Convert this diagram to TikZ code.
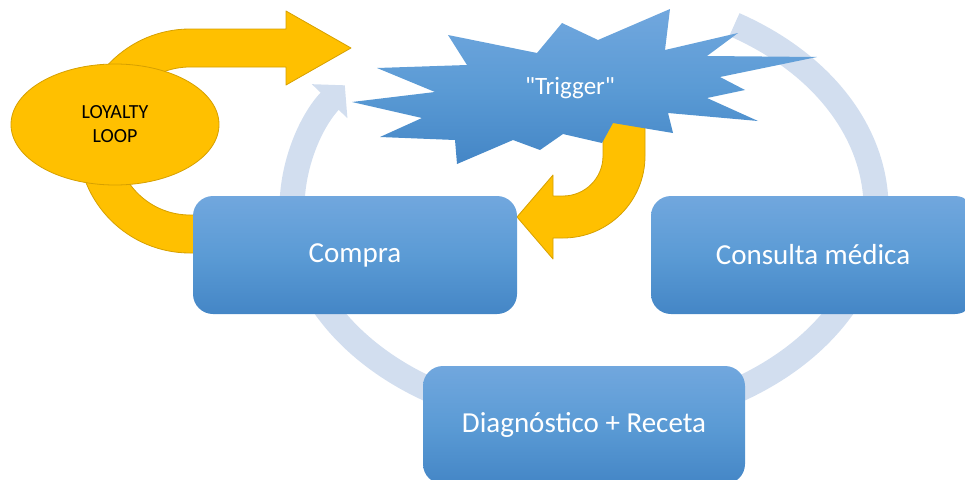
\documentclass[tikz,border=0pt]{standalone}
\usepackage{fontspec}
\setmainfont{Carlito}
\newfontfamily\plaincarlito{Carlito}[Ligatures=TeXOff]
\usetikzlibrary{arrows.meta,shapes.geometric}
\definecolor{cyclefill}{RGB}{210,222,239}
\definecolor{gold}{RGB}{255,192,0}
\definecolor{goldline}{RGB}{214,160,0}
\definecolor{boxtop}{RGB}{113,167,222}
\definecolor{boxmid}{RGB}{91,155,213}
\definecolor{boxbot}{RGB}{68,134,198}
\begin{document}
\begin{tikzpicture}[x=1pt,y=-1pt,
  stepbox/.style={rectangle, rounded corners=20pt, minimum width=324pt,
    minimum height=118pt, inner sep=0pt,
    top color=boxtop, bottom color=boxbot, middle color=boxmid,
    text=white, font=\fontsize{29}{34}\selectfont},
  cyclearc/.style={draw=cyclefill, line width=25pt,
    -{Triangle[width=48pt,length=22pt]}},
  goldarrow/.style={fill=gold, draw=goldline, line width=0.8pt, line join=round},
  burst/.style={top color=boxtop, bottom color=boxbot, middle color=boxmid},
  loopnode/.style={ellipse, minimum width=208pt, minimum height=121pt, inner sep=0pt,
    fill=gold, draw=goldline, line width=0.8pt, align=center,
    font=\fontsize{20}{24}\selectfont}
]
\clip (0,0) rectangle (965,479);

% cycle ring running clockwise behind the process boxes
\coordinate (cycstart) at (734.4,24.6);
\draw[cyclearc] (cycstart) arc[start angle=-59, end angle=215, x radius=292, y radius=214];

% U-turn block arrow of the loyalty loop
\draw[goldarrow] (262,253) -- (190,253)
  arc[start angle=90, end angle=270, radius=112]
  -- (286,29) -- (286,11) -- (351,48) -- (286,85) -- (286,67) -- (190,67)
  arc[start angle=270, end angle=90, radius=74]
  -- (262,215) -- cycle;

\node[loopnode] (loop) at (115,124.5) {LOYALTY\\LOOP};

% block arrow from the trigger down into the purchase step
\draw[goldarrow] (645,110) -- (645,156)
  arc[start angle=0, end angle=90, radius=82]
  -- (553,238) -- (553,259) -- (517,217) -- (553,175) -- (553,196) -- (563,196)
  arc[start angle=90, end angle=0, radius=40]
  -- (603,110) -- cycle;

% explosion shape
\path[burst] (352,102) -- (435,92) -- (377,68) -- (467,65) -- (448,35) -- (537,53)
  -- (562,23) -- (598,40) -- (670,9) -- (665,50) -- (738,33) -- (707,56)
  -- (817,57) -- (720,77) -- (745,90) -- (707,98) -- (758,121) -- (668,113)
  -- (673,133) -- (613,123) -- (602,143) -- (563,134) -- (540,150) -- (513,140)
  -- (457,164) -- (455,140) -- (380,137) -- (422,118) -- cycle;
\node[text=white, font=\plaincarlito\fontsize{25}{30}\selectfont] (trigger) at (570,88) {"Trigger"};

% process steps
\node[stepbox] (compra) at (355,255) {Compra};
\node[stepbox] (consulta) at (813,255) {Consulta médica};
\node[stepbox, minimum width=322pt] (diag) at (584,425) {Diagnóstico + Receta};
\end{tikzpicture}
\end{document}
